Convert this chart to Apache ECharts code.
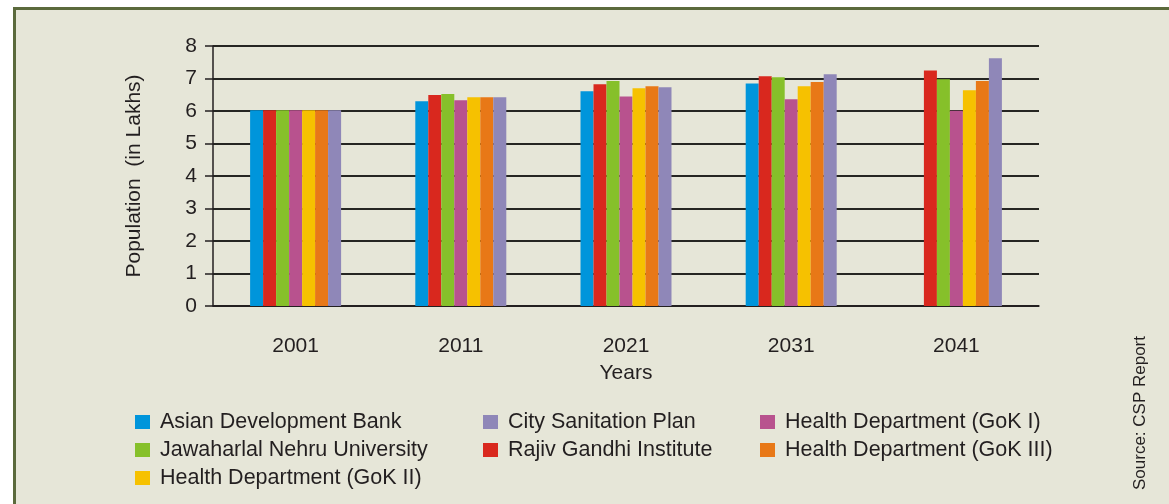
<!DOCTYPE html>
<html>
<head>
<meta charset="utf-8">
<script src="https://cdn.jsdelivr.net/npm/echarts@6/dist/echarts.min.js"></script>
<style>
  html, body { margin: 0; padding: 0; background: #fff; }
  #popChart { width: 1169px; height: 504px; }
</style>
</head>
<body>
<div id="popChart"></div>
<script>
// data
let years = ['2001', '2011', '2021', '2031', '2041'];
let yTicks = [0, 1, 2, 3, 4, 5, 6, 7, 8];

let adb    = [6.02, 6.30, 6.61, 6.85, null];
let rgi    = [6.02, 6.49, 6.82, 7.07, 7.25];
let jnu    = [6.02, 6.52, 6.92, 7.04, 6.98];
let gok1   = [6.02, 6.33, 6.45, 6.36, 6.01];
let gok2   = [6.02, 6.42, 6.70, 6.76, 6.64];
let gok3   = [6.02, 6.42, 6.76, 6.89, 6.92];
let csp    = [6.02, 6.42, 6.73, 7.13, 7.62];

let seriesNames = ['Asian Development Bank', 'Rajiv Gandhi Institute', 'Jawaharlal Nehru University',
  'Health Department (GoK I)', 'Health Department (GoK II)', 'Health Department (GoK III)', 'City Sanitation Plan'];
let seriesData = [adb, rgi, jnu, gok1, gok2, gok3, csp];
let colors = ['#0095db', '#d9281e', '#86c02a', '#b8528e', '#f6c100', '#e87817', '#8f87b8'];

let legendCols = [
  ['Asian Development Bank', 'Jawaharlal Nehru University', 'Health Department (GoK II)'],
  ['City Sanitation Plan', 'Rajiv Gandhi Institute'],
  ['Health Department (GoK I)', 'Health Department (GoK III)']
];
let legendLeft = [130, 478, 755];

let font = 'Liberation Sans, Arial, sans-serif';
let ink = '#231f20';

let popChart = echarts.init(document.getElementById('popChart'));

let legends = legendCols.map(function(names, i) {
  return {
    orient: 'vertical',
    left: legendLeft[i],
    top: 406,
    itemWidth: 15,
    itemHeight: 14,
    itemGap: 6,
    icon: 'rect',
    selectedMode: false,
    data: names,
    textStyle: { fontFamily: font, fontSize: 21.5, color: ink, lineHeight: 22, padding: [0, 0, 0, 5] }
  };
});

let series = seriesNames.map(function(name, i) {
  return {
    name: name,
    type: 'bar',
    barWidth: 13,
    barGap: '0%',
    itemStyle: { color: colors[i] },
    data: seriesData[i]
  };
});

let popOption = {
  backgroundColor: '#fff',
  animation: false,
  graphic: [{
    type: 'rect',
    z: -10,
    shape: { x: 14.5, y: 8.5, width: 1160, height: 520 },
    style: { fill: '#e6e6d8', stroke: '#5b6a3c', lineWidth: 3 }
  }, {
    type: 'text',
    left: 1132,
    top: 336,
    rotation: Math.PI / 2,
    style: { text: 'Source: CSP Report', fontFamily: font, fontSize: 17, fill: ink }
  }],
  legend: legends,
  grid: { left: 213, right: 130, top: 46, bottom: 198 },
  xAxis: {
    type: 'category',
    data: years,
    name: 'Years',
    nameLocation: 'middle',
    nameGap: 57,
    nameTextStyle: { fontFamily: font, fontSize: 21, color: ink },
    axisLine: { lineStyle: { color: ink, width: 1.5 } },
    axisTick: { length: 8, lineStyle: { color: ink, width: 1.5 } },
    axisLabel: { fontFamily: font, fontSize: 21, color: ink, margin: 30 }
  },
  yAxis: {
    type: 'value',
    min: yTicks[0],
    max: yTicks[yTicks.length - 1],
    interval: 1,
    name: 'Population  (in Lakhs)',
    nameLocation: 'middle',
    nameGap: 68,
    nameTextStyle: { fontFamily: font, fontSize: 21, color: ink },
    axisLine: { show: true, lineStyle: { color: ink, width: 1.5 } },
    axisTick: { show: true, length: 8, lineStyle: { color: ink, width: 1.5 } },
    axisLabel: { fontFamily: font, fontSize: 21, color: ink, margin: 16 },
    splitLine: { lineStyle: { color: '#262622', width: 2 } }
  },
  series: series
};

popChart.setOption(popOption);
</script>
</body>
</html>
